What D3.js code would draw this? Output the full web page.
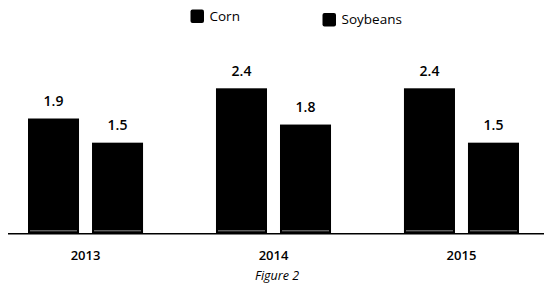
<!DOCTYPE html>
<html>
<head>
<meta charset="utf-8">
<script src="https://cdn.jsdelivr.net/npm/d3@7"></script>
<style>
  html, body { margin: 0; padding: 0; background: #fff; }
  svg { display: block; }
</style>
</head>
<body>
<svg id="chart" width="548" height="290"></svg>
<script>
const years = ["2013", "2014", "2015"];
const seriesNames = ["Corn", "Soybeans"];
const cornValues = [1.9, 2.4, 2.4];
const soyValues = [1.5, 1.8, 1.5];
const valueLabels = { Corn: ["1.9", "2.4", "2.4"], Soybeans: ["1.5", "1.8", "1.5"] };
const caption = "Figure 2";

const svg = d3.select("#chart");
const font = "'Open Sans', 'Noto Sans', sans-serif";

const x0 = d3.scaleBand().domain(years).range([28, 519]).paddingInner(0.388).paddingOuter(0);
const x1 = d3.scaleBand().domain(seriesNames).range([0, x0.bandwidth()]).paddingInner(0.203).paddingOuter(0);
const y = d3.scaleLinear().domain([0, 2.4]).range([233.3, 88.3]);

const data = years.map((yr, i) => ({
  year: yr,
  values: [
    { key: "Corn", value: cornValues[i], label: valueLabels.Corn[i] },
    { key: "Soybeans", value: soyValues[i], label: valueLabels.Soybeans[i] }
  ]
}));

const groups = svg.selectAll("g.grp").data(data).enter().append("g")
  .attr("class", "grp")
  .attr("transform", d => `translate(${x0(d.year)},0)`);

groups.selectAll("rect.bar").data(d => d.values).enter().append("rect")
  .attr("class", "bar")
  .attr("x", d => x1(d.key))
  .attr("y", d => y(d.value))
  .attr("width", x1.bandwidth())
  .attr("height", d => y(0) - y(d.value))
  .attr("fill", "#000");

// faint scan line near bottom of each bar
groups.selectAll("line.scan").data(d => d.values).enter().append("line")
  .attr("class", "scan")
  .attr("x1", d => x1(d.key) + 2)
  .attr("x2", d => x1(d.key) + x1.bandwidth() - 2)
  .attr("y1", y(0) - 2.5)
  .attr("y2", y(0) - 2.5)
  .attr("stroke", "#8a8a8a")
  .attr("stroke-width", 1);

groups.selectAll("text.val").data(d => d.values).enter().append("text")
  .attr("class", "val")
  .attr("x", d => x1(d.key) + x1.bandwidth() / 2)
  .attr("y", d => y(d.value) - 12.5)
  .attr("text-anchor", "middle")
  .attr("font-family", font)
  .attr("font-weight", 600)
  .attr("font-size", 14)
  .attr("fill", "#000")
  .text(d => d.label);

// baseline axis
const xAxis = d3.axisBottom(x0).tickSize(0).tickPadding(17);
const axisG = svg.append("g").attr("transform", `translate(0,${y(0)})`).call(xAxis);
axisG.select(".domain").remove();
axisG.selectAll("text")
  .attr("font-family", font)
  .attr("font-weight", 600)
  .attr("font-size", 13)
  .attr("fill", "#000");
svg.append("line")
  .attr("x1", 8).attr("x2", 544)
  .attr("y1", y(0) + 0.5).attr("y2", y(0) + 0.5)
  .attr("stroke", "#000").attr("stroke-width", 1.5);

// legend
const legendItems = [
  { name: seriesNames[0], sx: 190.5, sy: 9.5 },
  { name: seriesNames[1], sx: 322.5, sy: 13 }
];
const lg = svg.selectAll("g.leg").data(legendItems).enter().append("g").attr("class", "leg");
lg.append("rect")
  .attr("x", d => d.sx).attr("y", d => d.sy)
  .attr("width", 13.5).attr("height", 13.5)
  .attr("rx", 2).attr("fill", "#000");
lg.append("text")
  .attr("x", d => d.sx + 19)
  .attr("y", d => d.sy + 11)
  .attr("font-family", font)
  .attr("font-size", 13.5)
  .attr("fill", "#000")
  .text(d => d.name);

// caption
svg.append("text")
  .attr("x", 277).attr("y", 280)
  .attr("text-anchor", "middle")
  .attr("font-family", font)
  .attr("font-style", "italic")
  .attr("font-size", 12.5)
  .attr("fill", "#000")
  .text(caption);
</script>
</body>
</html>
